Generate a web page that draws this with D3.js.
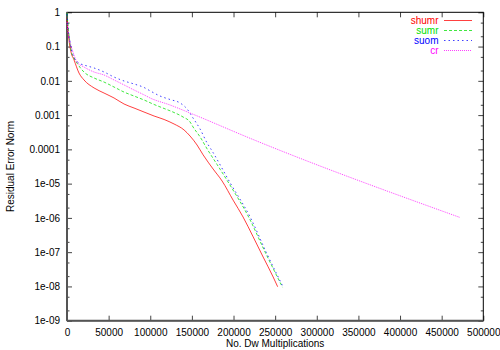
<!DOCTYPE html>
<html>
<head>
<meta charset="utf-8">
<script src="https://cdn.jsdelivr.net/npm/d3@7"></script>
<style>
  html, body { margin: 0; padding: 0; background: #fff; }
  svg { display: block; font-family: "Liberation Sans", Arial, Helvetica, sans-serif; }
</style>
</head>
<body>
<svg id="chart" width="500" height="350"></svg>
<script>
// ---- data ----
const seriesNames = ["shumr", "sumr", "suom", "cr"];

const shumrX = [0, 1200, 2400, 4800, 8400, 14400, 20400, 32500, 44500, 56500, 68500, 80500, 92500, 104600, 116600, 128600, 140600, 147800, 156200, 163500, 175500, 186300, 199500, 211500, 223600, 235600, 247600, 253000];
const shumrY = [0.68, 0.30, 0.155, 0.069, 0.041, 0.0169, 0.0106, 0.0062, 0.0044, 0.00316, 0.00211, 0.00161, 0.00123, 0.00094, 0.000745, 0.00055, 0.000368, 0.000245, 0.000134, 6.9e-5, 2.67e-5, 1.19e-5, 3.3e-6, 1.06e-6, 2.8e-7, 7.2e-8, 1.89e-8, 9.8e-9];

const sumrX = [0, 1200, 2400, 4800, 8400, 12000, 20400, 32500, 44500, 56500, 68500, 80500, 92500, 104600, 116600, 128600, 139400, 147800, 151400, 159900, 168300, 180300, 194700, 218700, 238000, 258800];
const sumrY = [0.95, 0.43, 0.22, 0.079, 0.046, 0.033, 0.018, 0.0121, 0.0092, 0.0066, 0.0047, 0.0036, 0.00276, 0.00204, 0.00156, 0.00119, 0.00088, 0.00063, 0.00045, 0.00023, 0.000103, 3.6e-5, 1.0e-5, 1.0e-6, 1.0e-7, 9.5e-9];

const suomX = [0, 1200, 3600, 7200, 14400, 20400, 32500, 44500, 56500, 68500, 80500, 92500, 99800, 111800, 123800, 135800, 144200, 151400, 159900, 168300, 173100, 196500, 220500, 239200, 259600];
const suomY = [0.89, 0.35, 0.136, 0.057, 0.033, 0.029, 0.0237, 0.0181, 0.0129, 0.0099, 0.0081, 0.0064, 0.0051, 0.0036, 0.00285, 0.00226, 0.00151, 0.00082, 0.00039, 0.000153, 1.0e-4, 1.0e-5, 1.0e-6, 1.0e-7, 9.6e-9];

const crX = [0, 1200, 3600, 7200, 12000, 20400, 32500, 44500, 56500, 68500, 80500, 92500, 99800, 123800, 147800, 220000, 471500];
const crY = [0.52, 0.27, 0.136, 0.069, 0.035, 0.0253, 0.0181, 0.0148, 0.0106, 0.0076, 0.0054, 0.0039, 0.00316, 0.00197, 0.00115, 0.00021, 1.04e-6];

const xTicks = [0, 50000, 100000, 150000, 200000, 250000, 300000, 350000, 400000, 450000, 500000];
const yTicks = [1, 0.1, 0.01, 0.001, 0.0001, 1e-5, 1e-6, 1e-7, 1e-8, 1e-9];
const yTickLabels = ["1", "0.1", "0.01", "0.001", "0.0001", "1e-05", "1e-06", "1e-07", "1e-08", "1e-09"];

const xTitle = "No. Dw Multiplications";
const yTitle = "Residual Error Norm";

// ---- layout ----
const svg = d3.select("#chart");
const L = 67, T = 12.3, R = 483.3, B = 320.7;

const x = d3.scaleLinear().domain([0, 500000]).range([L, R]);
const y = d3.scaleLog().domain([1e-9, 1]).range([B, T]);

const styles = [
  { color: "#ff0000", dash: null },
  { color: "#00e000", dash: "3,2" },
  { color: "#0000ff", dash: "1.5,3" },
  { color: "#ff00ff", dash: "1,1" }
];
const series = [
  [shumrX, shumrY], [sumrX, sumrY], [suomX, suomY], [crX, crY]
];

// minor tick values (2 and 5 per decade)
const minorY = [];
for (let e = -9; e < 0; e++) {
  [2, 5].forEach(m => minorY.push(m * Math.pow(10, e)));
}

const tickColor = "#444";
const yAxisL = d3.axisLeft(y).tickValues(yTicks).tickSize(-5).tickPadding(7)
  .tickFormat((d, i) => yTickLabels[i]);
const gL = svg.append("g").attr("transform", `translate(${L},0)`).call(yAxisL);
const yAxisLm = d3.axisLeft(y).tickValues(minorY).tickSize(-2.5).tickFormat("");
const gLm = svg.append("g").attr("transform", `translate(${L},0)`).call(yAxisLm);
const yAxisR = d3.axisRight(y).tickValues(yTicks).tickSize(-5).tickFormat("");
const gR = svg.append("g").attr("transform", `translate(${R},0)`).call(yAxisR);
const yAxisRm = d3.axisRight(y).tickValues(minorY).tickSize(-2.5).tickFormat("");
const gRm = svg.append("g").attr("transform", `translate(${R},0)`).call(yAxisRm);
const xAxisB = d3.axisBottom(x).tickValues(xTicks).tickSize(-5).tickPadding(8)
  .tickFormat(d3.format("d"));
const gB = svg.append("g").attr("transform", `translate(0,${B})`).call(xAxisB);
const xAxisT = d3.axisTop(x).tickValues(xTicks).tickSize(-5).tickFormat("");
const gT = svg.append("g").attr("transform", `translate(0,${T})`).call(xAxisT);

[gL, gLm, gR, gRm, gB, gT].forEach(g => {
  g.select(".domain").remove();
  g.selectAll(".tick line").attr("stroke", tickColor).attr("stroke-width", 1);
  g.selectAll(".tick text").attr("fill", "#000").attr("font-size", 10)
    .attr("font-family", '"Liberation Sans", Arial, sans-serif');
});

// border
svg.append("rect").attr("x", L).attr("y", T).attr("width", R - L).attr("height", B - T)
  .attr("fill", "none").attr("stroke", "#000").attr("stroke-width", 1);
svg.append("line").attr("x1", L).attr("x2", L).attr("y1", T).attr("y2", B)
  .attr("stroke", "#555").attr("stroke-width", 2);
svg.append("line").attr("x1", L).attr("x2", R).attr("y1", B).attr("y2", B)
  .attr("stroke", "#555").attr("stroke-width", 2);

// lines
const line = d3.line().x(d => x(d[0])).y(d => y(d[1])).curve(d3.curveMonotoneX);
series.forEach((s, i) => {
  const pts = s[0].map((v, j) => [v, s[1][j]]);
  svg.append("path").datum(pts)
    .attr("d", line)
    .attr("fill", "none")
    .attr("stroke", styles[i].color)
    .attr("stroke-width", 1)
    .attr("stroke-opacity", 0.75)
    .attr("stroke-dasharray", styles[i].dash);
});

// legend
const legY = [20.5, 30.5, 40.5, 50.5];
seriesNames.forEach((n, i) => {
  svg.append("text").attr("x", 438.5).attr("y", legY[i] + 3.5)
    .attr("text-anchor", "end").attr("font-size", 10)
    .attr("fill", styles[i].color).text(n);
  svg.append("line").attr("x1", 444).attr("x2", 472)
    .attr("y1", legY[i]).attr("y2", legY[i])
    .attr("stroke", styles[i].color).attr("stroke-width", 1)
    .attr("stroke-opacity", 0.75)
    .attr("stroke-dasharray", styles[i].dash);
});

// titles
svg.append("text").attr("x", (L + R) / 2).attr("y", 346.5)
  .attr("text-anchor", "middle").attr("font-size", 10).text(xTitle);
svg.append("text")
  .attr("transform", `translate(13.5,${(T + B) / 2}) rotate(-90)`)
  .attr("text-anchor", "middle").attr("font-size", 10).text(yTitle);
</script>
</body>
</html>
